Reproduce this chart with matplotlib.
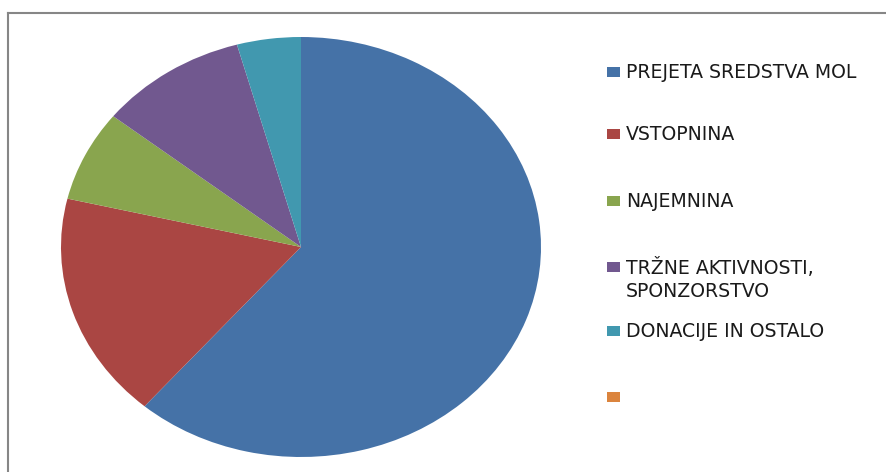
import matplotlib.pyplot as plt
from matplotlib.patches import Rectangle
from matplotlib.lines import Line2D

# data
labels = ['PREJETA SREDSTVA MOL', 'VSTOPNINA', 'NAJEMNINA',
          'TRŽNE AKTIVNOSTI,\nSPONZORSTVO', 'DONACIJE IN OSTALO', '']
values = [61.3, 17.4, 7.0, 10.0, 4.3, 0.0]
colors = ['#4572A7', '#AA4643', '#89A54E', '#71588F', '#4198AF', '#DB843D']

W, H = 887, 472
fig = plt.figure(figsize=(W / 100, H / 100), dpi=100)
plt.rcParams['font.family'] = ['DejaVu Sans']

# pie (slightly stretched like the original)
ax = fig.add_axes([61 / W, 1 - 457 / H, 480 / W, 420 / H])
ax.pie(values, colors=colors, startangle=90, counterclock=False,
       wedgeprops=dict(linewidth=0))
ax.set_aspect('auto')
ax.set_xlim(-1, 1)
ax.set_ylim(-1, 1)

# frame (only left and top visible)
fig.add_artist(Line2D([8 / W, 8 / W], [0, 1 - 13 / H], color='#868686', lw=1.5))
fig.add_artist(Line2D([8 / W, 1], [1 - 13 / H, 1 - 13 / H], color='#868686', lw=1.5))

# legend
row_y = [72, 134, 201, 267, 331, 397]
for lab, col, y in zip(labels, colors, row_y):
    fig.add_artist(Rectangle((607 / W, 1 - (y + 5) / H), 13 / W, 10 / H,
                             facecolor=col, edgecolor='none'))
    fig.text(626 / W, 1 - (y - 9) / H, lab, fontsize=13.6, color='#1a1a1a',
             va='top', ha='left', linespacing=1.25)

fig.savefig('out.png', dpi=100)
